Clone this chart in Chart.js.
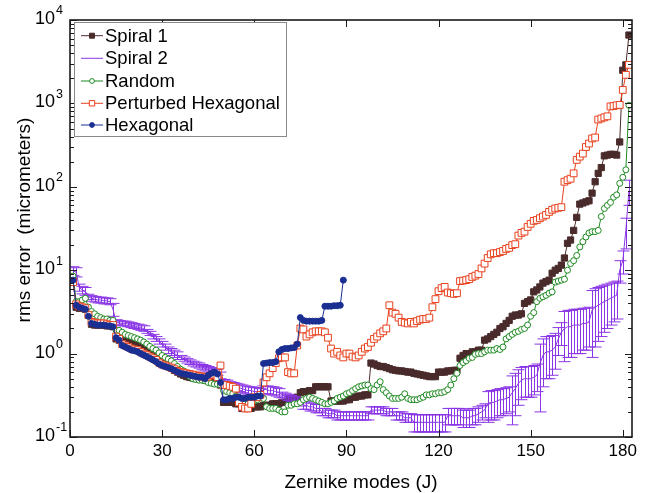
<!DOCTYPE html>
<html>
<head>
<meta charset="utf-8">
<script src="https://cdn.jsdelivr.net/npm/chart.js@4.4.1/dist/chart.umd.min.js"></script>
<style>
html, body { margin: 0; padding: 0; background: #fff; }
#wrap { width: 647px; height: 493px; }
</style>
</head>
<body>
<div id="wrap"><canvas id="c" width="647" height="493"></canvas></div>
<script>
// ---- data: rms error per Zernike mode J (J = index + 1) ----
const spiral1 = [
  7.5, 3.6, 3.5, 3.5, 3.4, 2.9, 2.25, 2.2, 2.2, 2.2,
  2.2, 2.15, 2.15, 2.1, 1.5, 1.45, 1.42, 1.42, 1.4, 1.4,
  1.38, 1.35, 1.3, 1.2, 1.1, 1.0, 0.95, 0.9, 0.82, 0.76,
  0.72, 0.7, 0.67, 0.63, 0.6, 0.57, 0.55, 0.53, 0.52, 0.51,
  0.5, 0.5, 0.5, 0.48, 0.5, 0.52, 0.52, 0.5, 0.42, 0.26,
  0.26, 0.26, 0.26, 0.25, 0.25, 0.22, 0.22, 0.22, 0.22, 0.23,
  0.23, 0.23, 0.24, 0.24, 0.24, 0.25, 0.25, 0.25, 0.26, 0.26,
  0.29, 0.29, 0.29, 0.3, 0.34, 0.35, 0.35, 0.36, 0.36, 0.4,
  0.4, 0.4, 0.4, 0.4, 0.27, 0.27, 0.27, 0.27, 0.27, 0.28,
  0.28, 0.3, 0.3, 0.31, 0.31, 0.32, 0.32, 0.77, 0.75, 0.72,
  0.7, 0.7, 0.68, 0.66, 0.64, 0.63, 0.62, 0.62, 0.61, 0.6,
  0.6, 0.58, 0.57, 0.56, 0.55, 0.54, 0.53, 0.53, 0.53, 0.6,
  0.6, 0.6, 0.62, 0.62, 0.63, 0.63, 0.88, 0.95, 1.0, 1.0,
  1.05, 1.05, 1.1, 1.1, 1.45, 1.5, 1.6, 1.7, 1.8, 2.0,
  2.1, 2.3, 2.5, 2.8, 2.9, 2.9, 3.0, 4.0, 4.2, 4.4,
  5.5, 5.8, 6.3, 7.0, 7.3, 7.6, 9.2, 10, 10.5, 11.5,
  14, 21, 23, 30, 43, 62, 64, 66, 68, 84,
  115, 145, 170, 235, 240, 245, 245, 240, 345, 2500,
  2900, 6600
];

const spiral2 = [
  9.8, 9.5, 6.2, 5.8, 5.6, 4.8, 4.6, 4.5, 4.4, 4.4,
  4.3, 4.3, 4.2, 3.4, 2.4, 2.35, 2.3, 2.3, 2.25, 2.2,
  2.15, 2.1, 2.05, 2.0, 1.85, 1.75, 1.6, 1.5, 1.4, 1.3,
  1.2, 1.1, 1.05, 1.0, 0.95, 0.9, 0.86, 0.82, 0.79, 0.76,
  0.74, 0.72, 0.69, 0.67, 0.65, 0.63, 0.61, 0.6, 0.55, 0.45,
  0.44, 0.42, 0.41, 0.4, 0.39, 0.38, 0.37, 0.36, 0.36, 0.35,
  0.35, 0.34, 0.37, 0.37, 0.36, 0.36, 0.35, 0.34, 0.32, 0.31,
  0.3, 0.29, 0.28, 0.27, 0.26, 0.24, 0.24, 0.23, 0.23, 0.22,
  0.22, 0.2, 0.2, 0.19, 0.19, 0.19, 0.18, 0.18, 0.18, 0.18,
  0.18, 0.18, 0.18, 0.18, 0.18, 0.18, 0.18, 0.21, 0.21, 0.21,
  0.21, 0.21, 0.2, 0.2, 0.2, 0.18, 0.18, 0.18, 0.17, 0.17,
  0.17, 0.15, 0.15, 0.15, 0.15, 0.15, 0.15, 0.15, 0.15, 0.15,
  0.15, 0.15, 0.18, 0.18, 0.18, 0.18, 0.18, 0.17, 0.17, 0.17,
  0.18, 0.18, 0.19, 0.2, 0.21, 0.25, 0.26, 0.26, 0.27, 0.28,
  0.28, 0.29, 0.3, 0.34, 0.38, 0.44, 0.48, 0.5, 0.5, 0.5,
  0.52, 0.55, 0.75, 0.95, 1.05, 1.05, 1.1, 1.2, 1.5, 1.8,
  2.0, 2.1, 2.1, 2.2, 2.2, 2.2, 2.3, 2.3, 2.4, 3.3,
  3.6, 3.8, 4.0, 4.2, 4.4, 4.6, 4.8, 5.0, 10, 13,
  30, 90
];

// +/- spread of Spiral 2 (error bars)
const spiral2Err = [
  1.2, 1.2, 0.6, 0.6, 0.6, 0.35, 0.35, 0.35, 0.35, 0.35,
  0.35, 0.35, 0.35, 0.6, 0.15, 0.15, 0.15, 0.15, 0.15, 0.15,
  0.15, 0.15, 0.15, 0.15, 0.1, 0.1, 0.1, 0.1, 0.1, 0.1,
  0.1, 0.1, 0.1, 0.1, 0.1, 0.05, 0.05, 0.05, 0.05, 0.05,
  0.05, 0.05, 0.05, 0.05, 0.05, 0.05, 0.05, 0.05, 0.05, 0.04,
  0.04, 0.04, 0.04, 0.04, 0.04, 0.04, 0.04, 0.04, 0.04, 0.04,
  0.04, 0.04, 0.04, 0.04, 0.04, 0.04, 0.04, 0.04, 0.025, 0.025,
  0.025, 0.025, 0.025, 0.025, 0.025, 0.025, 0.025, 0.025, 0.025, 0.025,
  0.025, 0.02, 0.02, 0.02, 0.02, 0.02, 0.02, 0.02, 0.02, 0.02,
  0.02, 0.02, 0.02, 0.02, 0.02, 0.02, 0.02, 0.02, 0.02, 0.02,
  0.02, 0.02, 0.02, 0.02, 0.02, 0.02, 0.02, 0.02, 0.02, 0.02,
  0.02, 0.035, 0.035, 0.035, 0.035, 0.035, 0.035, 0.035, 0.035, 0.035,
  0.035, 0.035, 0.04, 0.04, 0.04, 0.04, 0.04, 0.04, 0.04, 0.04,
  0.04, 0.04, 0.04, 0.04, 0.04, 0.1, 0.1, 0.1, 0.1, 0.1,
  0.1, 0.1, 0.1, 0.2, 0.2, 0.2, 0.2, 0.2, 0.2, 0.2,
  0.2, 0.2, 0.55, 0.55, 0.55, 0.55, 0.55, 0.55, 0.55, 0.55,
  1.2, 1.2, 1.2, 1.2, 1.2, 1.2, 1.2, 1.2, 1.2, 2.4,
  2.4, 2.4, 2.4, 2.4, 2.4, 2.4, 2.4, 2.4, 3, 4,
  12, 30
];

const random = [
  8.5, 4.2, 4.2, 4.4, 4.6, 3.6, 3.2, 3.0, 2.8, 2.7,
  2.6, 2.6, 2.5, 2.5, 1.9, 1.9, 1.8, 1.7, 1.65, 1.6,
  1.55, 1.5, 1.45, 1.38, 1.3, 1.22, 1.15, 1.1, 1.02, 0.95,
  0.9, 0.86, 0.82, 0.76, 0.7, 0.65, 0.62, 0.58, 0.53, 0.5,
  0.49, 0.48, 0.48, 0.47, 0.45, 0.44, 0.43, 0.43, 0.42, 0.36,
  0.35, 0.34, 0.33, 0.31, 0.3, 0.26, 0.25, 0.25, 0.25, 0.27,
  0.28, 0.3, 0.29, 0.23, 0.22, 0.22, 0.22, 0.21, 0.2, 0.2,
  0.24, 0.24, 0.25, 0.25, 0.26, 0.28, 0.29, 0.3, 0.29, 0.28,
  0.27, 0.26, 0.25, 0.25, 0.26, 0.27, 0.29, 0.3, 0.31, 0.33,
  0.34, 0.36, 0.38, 0.4, 0.41, 0.42, 0.42, 0.38, 0.37, 0.42,
  0.46, 0.37, 0.34, 0.31, 0.29, 0.29, 0.29, 0.3, 0.33, 0.29,
  0.28, 0.28, 0.28, 0.29, 0.3, 0.32, 0.32, 0.33, 0.33, 0.34,
  0.34, 0.35, 0.37, 0.42, 0.5, 0.58, 0.72, 0.78, 0.82, 0.88,
  0.9, 0.98, 1.0, 1.0, 1.05, 1.1, 1.1, 1.1, 1.15, 1.12,
  1.2, 1.5, 1.6, 1.7, 1.8, 1.85, 1.95, 2.0, 2.2, 2.8,
  3.1, 4.2, 4.6, 4.8, 5.0, 5.3, 5.5, 7.2, 7.4, 7.6,
  7.8, 10, 12, 13, 15, 19, 22, 25, 28, 29,
  29, 30, 44, 55, 60, 65, 75, 80, 110, 130,
  160, 950
];

const perturbedHex = [
  7.2, 3.9, 3.7, 3.6, 3.5, 2.9, 2.4, 2.35, 2.3, 2.3,
  2.3, 2.25, 2.2, 2.2, 1.6, 1.5, 1.3, 1.25, 1.2, 1.15,
  1.12, 1.1, 1.05, 1.0, 0.96, 0.92, 0.88, 0.84, 0.78, 0.74,
  0.72, 0.7, 0.68, 0.65, 0.62, 0.6, 0.59, 0.58, 0.57, 0.56,
  0.55, 0.54, 0.53, 0.52, 0.53, 0.55, 0.56, 0.52, 0.72, 0.42,
  0.42, 0.41, 0.4, 0.38, 0.26, 0.23, 0.22, 0.22, 0.25, 0.3,
  0.3, 0.32, 0.45, 0.52, 0.58, 0.67, 0.77, 0.88, 0.9, 0.9,
  0.6, 0.58, 0.58, 1.25, 2.0, 1.95, 1.6, 1.7, 1.8, 1.85,
  1.85, 1.85, 1.8, 1.55, 1.15, 1.0, 1.05, 0.95, 0.9, 1.0,
  1.0, 0.92, 0.9, 0.95, 1.05, 1.15, 1.2, 1.35, 1.5, 1.6,
  1.75, 1.85, 2.0, 3.8, 3.1, 3.0, 2.7, 2.4, 2.35, 2.3,
  2.4, 2.3, 2.45, 2.55, 2.6, 2.6, 2.7, 3.6, 4.5, 5.6,
  6.1, 6.3, 5.4, 5.3, 5.2, 5.3, 7.4, 7.5, 7.6, 7.8,
  8.3, 8.6, 9.0, 10.5, 12, 14, 15.5, 16, 16, 16.5,
  17, 18, 18.5, 20, 20.5, 26, 28, 29, 33, 36,
  39, 40, 42, 44, 46, 50, 53, 55, 56, 57,
  115, 120, 125, 145, 210, 230, 250, 300, 330, 380,
  390, 640, 660, 680, 700, 920, 930, 950, 960, 1450,
  2200, 2900
];

const hexagonal = [
  7.6, 3.8, 3.6, 3.5, 3.4, 2.8, 2.3, 2.25, 2.2, 2.2,
  2.2, 2.15, 2.15, 2.1, 1.55, 1.45, 1.25, 1.2, 1.15, 1.1,
  1.08, 1.05, 1.0, 0.96, 0.92, 0.88, 0.84, 0.8, 0.75, 0.72,
  0.7, 0.68, 0.66, 0.63, 0.6, 0.58, 0.57, 0.56, 0.55, 0.54,
  0.53, 0.52, 0.52, 0.5, 0.55, 0.58, 0.6, 0.57, 0.45, 0.28,
  0.28, 0.29, 0.29, 0.3, 0.3, 0.29, 0.29, 0.3, 0.3, 0.3,
  0.31, 0.31, 0.76, 0.77, 0.78, 0.78, 0.8, 1.05, 1.12, 1.15,
  1.15, 1.17, 1.18, 1.3, 2.7, 2.5, 2.45, 2.45, 2.45, 2.45,
  2.45, 2.5, 3.7, 3.7, 3.7, 3.75, 3.75, 3.8, 7.6
];

const xTicks = [0, 30, 60, 90, 120, 150, 180];
const yExponents = [-1, 0, 1, 2, 3, 4];

// ---- look ----
const FONT = '"Liberation Sans", Arial, Helvetica, sans-serif';
const COL = {
  s1: '#4a2b2b',
  s2: '#8a35e6',
  rnd: '#1f8a22',
  phex: '#e8421e',
  hex: '#1b2f92',
  axis: '#1a1a1a'
};

const toXY = arr => arr.map((v, i) => ({ x: i + 1, y: v }));

// error bars for Spiral 2, drawn right after that dataset
const errorBars = {
  id: 'errorBars',
  afterDatasetDraw(chart, args) {
    if (args.index !== 1) return;
    const { ctx, scales: { x, y }, chartArea } = chart;
    ctx.save();
    ctx.beginPath();
    ctx.rect(chartArea.left, chartArea.top, chartArea.right - chartArea.left, chartArea.bottom - chartArea.top);
    ctx.clip();
    ctx.strokeStyle = COL.s2;
    ctx.lineWidth = 1;
    spiral2.forEach((m, i) => {
      const e = spiral2Err[i];
      const px = Math.round(x.getPixelForValue(i + 1)) + 0.5;
      const lo = Math.max(m - e, 0.0101);
      const yHi = y.getPixelForValue(m + e);
      const yLo = y.getPixelForValue(lo);
      ctx.beginPath();
      ctx.moveTo(px, yHi); ctx.lineTo(px, yLo);
      ctx.moveTo(px - 6, yHi); ctx.lineTo(px + 6, yHi);
      ctx.moveTo(px - 6, yLo); ctx.lineTo(px + 6, yLo);
      ctx.stroke();
    });
    ctx.restore();
  }
};

// frame, ticks, labels, titles and legend
const decor = {
  id: 'decor',
  afterDraw(chart) {
    const { ctx, chartArea: a, scales: { x, y } } = chart;
    ctx.save();
    ctx.strokeStyle = COL.axis;
    ctx.fillStyle = '#000';

    // ticks (inward, both sides)
    ctx.lineWidth = 1;
    ctx.beginPath();
    xTicks.forEach(t => {
      const px = Math.round(x.getPixelForValue(t)) + 0.5;
      ctx.moveTo(px, a.bottom); ctx.lineTo(px, a.bottom - 7);
      ctx.moveTo(px, a.top); ctx.lineTo(px, a.top + 7);
    });
    yExponents.forEach(ex => {
      const base = Math.pow(10, ex);
      const py = Math.round(y.getPixelForValue(base)) + 0.5;
      ctx.moveTo(a.left, py); ctx.lineTo(a.left + 7, py);
      ctx.moveTo(a.right, py); ctx.lineTo(a.right - 7, py);
      if (ex === 4) return;
      for (let m = 2; m <= 9; m++) {
        const q = Math.round(y.getPixelForValue(m * base)) + 0.5;
        ctx.moveTo(a.left, q); ctx.lineTo(a.left + 4, q);
        ctx.moveTo(a.right, q); ctx.lineTo(a.right - 4, q);
      }
    });
    ctx.stroke();

    // frame
    ctx.lineWidth = 1.6;
    ctx.strokeRect(a.left, a.top, a.right - a.left, a.bottom - a.top);

    // x tick labels
    ctx.font = '17px ' + FONT;
    ctx.textAlign = 'center';
    ctx.textBaseline = 'middle';
    xTicks.forEach(t => ctx.fillText(String(t), x.getPixelForValue(t), 451));

    // y tick labels 10^n
    yExponents.forEach(ex => {
      const py = y.getPixelForValue(Math.pow(10, ex));
      ctx.font = '18px ' + FONT;
      ctx.textAlign = 'right';
      ctx.fillText('10', 55, py - 1);
      ctx.font = '12.5px ' + FONT;
      ctx.textAlign = 'left';
      ctx.fillText(ex < 0 ? '-' + Math.abs(ex) : String(ex), 56, py - 9);
    });

    // axis titles
    ctx.font = '19px ' + FONT;
    ctx.textAlign = 'center';
    ctx.fillText('Zernike modes (J)', 361, 483);
    ctx.save();
    ctx.translate(25, 220);
    ctx.rotate(-Math.PI / 2);
    ctx.fillText('rms error  (micrometers)', 0, 0);
    ctx.restore();

    // legend box
    ctx.fillStyle = '#fff';
    ctx.fillRect(74.5, 22.5, 212, 114);
    ctx.strokeStyle = '#8a8a8a';
    ctx.lineWidth = 1;
    ctx.strokeRect(74.5, 22.5, 212, 114);
    const rows = [35.7, 58.3, 81, 103.3, 125];
    chart.data.datasets.forEach((ds, i) => {
      const ry = rows[i];
      ctx.strokeStyle = ds.borderColor;
      ctx.lineWidth = 1;
      ctx.beginPath();
      ctx.moveTo(81, ry); ctx.lineTo(103, ry);
      ctx.stroke();
      if (ds.pointRadius > 0) {
        ctx.fillStyle = ds.pointBackgroundColor;
        ctx.strokeStyle = ds.pointBorderColor;
        Chart.helpers.drawPoint(ctx, {
          pointStyle: ds.pointStyle,
          radius: ds.pointRadius * 0.8,
          borderWidth: 1
        }, 92, ry);
      }
      ctx.fillStyle = '#000';
      ctx.font = '18.5px ' + FONT;
      ctx.textAlign = 'left';
      ctx.fillText(ds.label, 105, ry + 1);
    });
    ctx.restore();
  }
};

const ctx = document.getElementById('c').getContext('2d');
new Chart(ctx, {
  type: 'line',
  data: {
    datasets: [
      { label: 'Spiral 1', data: toXY(spiral1), borderColor: COL.s1, pointBackgroundColor: COL.s1,
        pointBorderColor: COL.s1, pointStyle: 'rect', pointRadius: 4.4, borderWidth: 1, order: 4 },
      { label: 'Spiral 2', data: toXY(spiral2), borderColor: COL.s2, pointRadius: 0, borderWidth: 1, order: 3 },
      { label: 'Random', data: toXY(random), borderColor: COL.rnd, pointBackgroundColor: '#fff',
        pointBorderColor: COL.rnd, pointStyle: 'circle', pointRadius: 3, borderWidth: 1, order: 2 },
      { label: 'Perturbed Hexagonal', data: toXY(perturbedHex), borderColor: COL.phex, pointBackgroundColor: '#fff',
        pointBorderColor: COL.phex, pointStyle: 'rect', pointRadius: 4.8, borderWidth: 1, order: 1 },
      { label: 'Hexagonal', data: toXY(hexagonal), borderColor: COL.hex, pointBackgroundColor: COL.hex,
        pointBorderColor: COL.hex, pointStyle: 'circle', pointRadius: 3, borderWidth: 1, order: 0 }
    ]
  },
  options: {
    responsive: false,
    animation: false,
    events: [],
    layout: { padding: { left: 70, right: 15, top: 20, bottom: 56 } },
    elements: { line: { tension: 0 }, point: { borderWidth: 1 } },
    scales: {
      x: { type: 'linear', min: 0, max: 183, display: false },
      y: { type: 'logarithmic', min: 0.1, max: 10000, display: false }
    },
    plugins: { legend: { display: false }, tooltip: { enabled: false } }
  },
  plugins: [errorBars, decor]
});
</script>
</body>
</html>
